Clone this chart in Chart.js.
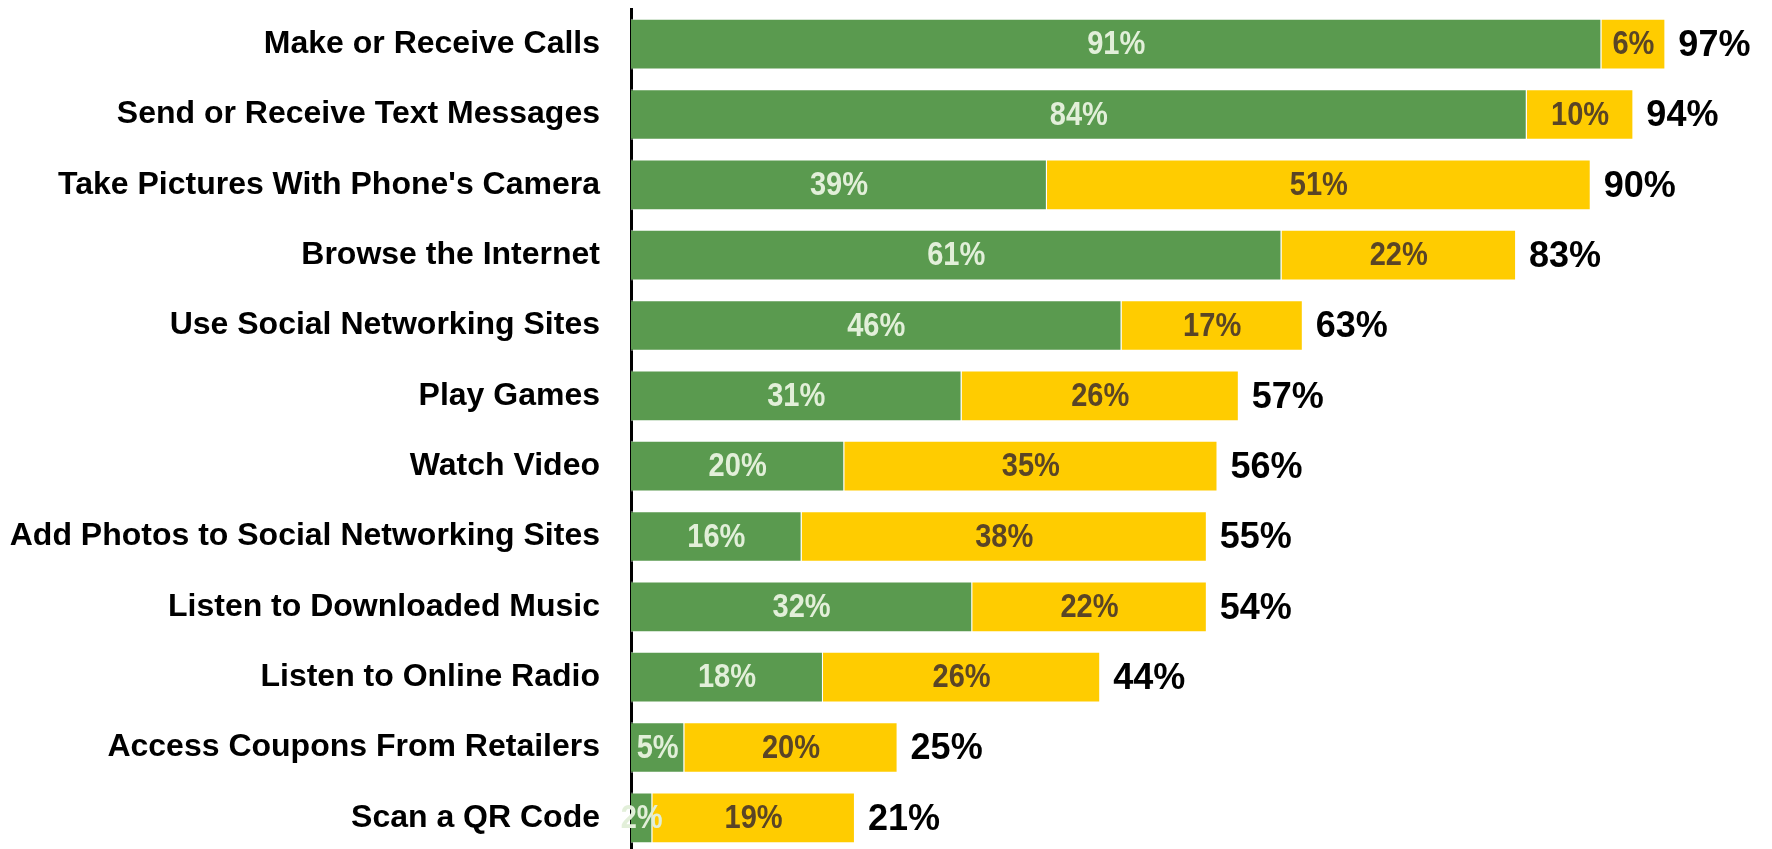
<!DOCTYPE html>
<html lang="en">
<head>
  <meta charset="UTF-8" />
  <title>Phone activities</title>
  <style>
    html, body {
      margin: 0;
      background: #ffffff;
      overflow: hidden;
    }
    .chart-wrap {
      position: relative;
      width: 1772px;
      height: 853px;
    }
  </style>
</head>
<body>

<div class="chart-wrap">
  <canvas id="graficoUso"></canvas>
</div>

<script src="https://cdn.jsdelivr.net/npm/chart.js@4"></script>

<script>
  // categories, top to bottom
  const atividades = [
    'Make or Receive Calls',
    'Send or Receive Text Messages',
    "Take Pictures With Phone's Camera",
    'Browse the Internet',
    'Use Social Networking Sites',
    'Play Games',
    'Watch Video',
    'Add Photos to Social Networking Sites',
    'Listen to Downloaded Music',
    'Listen to Online Radio',
    'Access Coupons From Retailers',
    'Scan a QR Code'
  ];
  // green segment
  const serieVerde = [91, 84, 39, 61, 46, 31, 20, 16, 32, 18, 5, 2];
  // yellow segment
  const serieAmarela = [6, 10, 51, 22, 17, 26, 35, 38, 22, 26, 20, 19];
  // totals written after each bar
  const totais = [97, 94, 90, 83, 63, 57, 56, 55, 54, 44, 25, 21];

  const VERDE = '#5A9A4F';
  const AMARELO = '#FFCC00';
  const FONTE = "'Liberation Sans', Arial, sans-serif";

  // labels inside segments + totals at the end
  const rotulos = {
    id: 'rotulos',
    afterDatasetsDraw(chart) {
      const ctx = chart.ctx;
      ctx.save();
      ctx.textBaseline = 'middle';
      const coresTexto = ['#E2EFD9', '#5A4526'];
      chart.data.datasets.forEach((ds, di) => {
        const meta = chart.getDatasetMeta(di);
        meta.data.forEach((bar, i) => {
          const v = ds.data[i];
          const cx = (bar.x + bar.base) / 2;
          // slightly condensed, like the original
          ctx.save();
          ctx.translate(cx, bar.y + 1);
          ctx.scale(0.88, 1);
          ctx.font = 'bold 33px ' + FONTE;
          ctx.fillStyle = coresTexto[di];
          ctx.textAlign = 'center';
          ctx.fillText(v + '%', 0, 0);
          ctx.restore();
          if (di === chart.data.datasets.length - 1) {
            ctx.font = 'bold 36px ' + FONTE;
            ctx.fillStyle = '#000000';
            ctx.textAlign = 'left';
            ctx.fillText(totais[i] + '%', bar.x + 13, bar.y + 2);
          }
        });
      });
      ctx.restore();
    }
  };

  new Chart(document.getElementById('graficoUso'), {
    type: 'bar',
    data: {
      labels: atividades,
      datasets: [
        {
          label: 'Green',
          data: serieVerde,
          backgroundColor: VERDE,
          borderColor: 'rgba(255,255,255,0.6)',
          borderWidth: 1,
          categoryPercentage: 1,
          barPercentage: 0.72
        },
        {
          label: 'Yellow',
          data: serieAmarela,
          backgroundColor: AMARELO,
          borderColor: 'rgba(255,255,255,0.6)',
          borderWidth: 1,
          categoryPercentage: 1,
          barPercentage: 0.72
        }
      ]
    },
    options: {
      indexAxis: 'y',
      responsive: true,
      maintainAspectRatio: false,
      animation: false,
      layout: { padding: { top: 9, right: 0, bottom: 0, left: 0 } },
      plugins: {
        legend: { display: false },
        tooltip: { enabled: false }
      },
      scales: {
        x: {
          stacked: true,
          display: false,
          min: 0,
          max: 107
        },
        y: {
          stacked: true,
          grid: { display: false, drawTicks: false },
          border: { display: true, color: '#000000', width: 3 },
          ticks: {
            padding: 31,
            color: '#000000',
            font: { family: FONTE, size: 32, weight: 'bold' }
          },
          afterFit(scale) {
            scale.width = 631;
            // no extra room above / below for the tick labels
            scale.paddingTop = 0;
            scale.paddingBottom = 0;
          }
        }
      }
    },
    plugins: [rotulos]
  });
</script>

</body>
</html>
